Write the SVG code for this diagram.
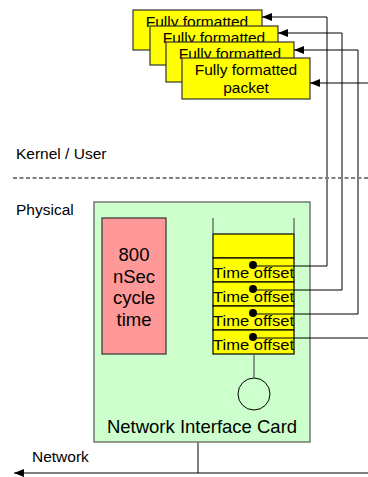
<svg xmlns="http://www.w3.org/2000/svg" width="368" height="477" viewBox="0 0 368 477">
  <defs>
    <marker id="ah" markerWidth="10" markerHeight="8" refX="10" refY="4" orient="auto" markerUnits="userSpaceOnUse">
      <path d="M0,0 L10,4 L0,8 Z" fill="#000"/>
    </marker>
    <style>
      text { font-family: "Liberation Sans", Arial, sans-serif; fill: #000; }
      .pkt { fill: #ffff00; stroke: #333; stroke-width: 1.2; }
      .pt { font-size: 15.5px; text-anchor: middle; }
      .lbl { font-size: 15.5px; }
      .big { font-size: 18.5px; text-anchor: middle; }
      .gray { stroke: #808080; stroke-width: 2; fill: none; }
      .blk { stroke: #000; stroke-width: 1; fill: none; }
      .row { fill: #ffff00; stroke: #000; stroke-width: 1.2; }
      .to { font-size: 15.5px; }
    </style>
  </defs>
  <rect width="368" height="477" fill="#fff"/>

  <!-- layer labels and boundary -->
  <text class="lbl" x="16" y="159">Kernel / User</text>
  <line x1="13" y1="178" x2="368" y2="178" stroke="#000" stroke-width="1" stroke-dasharray="4,2.5"/>
  <text class="lbl" x="16" y="215">Physical</text>
  <text class="lbl" x="32" y="462">Network</text>

  <!-- network interface card -->
  <g id="nic">
    <rect x="94" y="202" width="216" height="240" fill="#ccffcc" stroke="#555" stroke-width="1.2"/>
    <text class="big" x="202" y="433">Network Interface Card</text>
  </g>

  <g id="clock">
    <rect x="102" y="218" width="64" height="136" fill="#ff9999" stroke="#333" stroke-width="1.2"/>
    <text class="big" x="134" y="261">800</text>
    <text class="big" x="134" y="283">nSec</text>
    <text class="big" x="134" y="304">cycle</text>
    <text class="big" x="134" y="326">time</text>
  </g>

  <!-- descriptor stack -->
  <g id="queue">
    <rect x="213" y="234" width="81" height="24" class="row"/>
    <rect x="213" y="258" width="81" height="24" class="row"/>
    <rect x="213" y="282" width="81" height="24" class="row"/>
    <rect x="213" y="306" width="81" height="24" class="row"/>
    <rect x="213" y="330" width="81" height="24" class="row"/>
    <line x1="213" y1="218" x2="213" y2="234" stroke="#555" stroke-width="1.2"/>
    <line x1="294" y1="218" x2="294" y2="234" stroke="#555" stroke-width="1.2"/>
    <text class="to" x="213" y="278" textLength="81" lengthAdjust="spacingAndGlyphs">Time offset</text>
    <text class="to" x="213" y="302" textLength="81" lengthAdjust="spacingAndGlyphs">Time offset</text>
    <text class="to" x="213" y="326" textLength="81" lengthAdjust="spacingAndGlyphs">Time offset</text>
    <text class="to" x="213" y="350" textLength="81" lengthAdjust="spacingAndGlyphs">Time offset</text>
  </g>

  <g id="port">
    <circle cx="254" cy="394" r="16" fill="none" stroke="#000" stroke-width="1"/>
  </g>

  <!-- packet buffers -->
  <g id="packet1">
    <rect x="133" y="10" width="129" height="40" class="pkt"/>
    <text class="pt" x="197" y="27">Fully formatted</text>
  </g>
  <g id="packet2">
    <rect x="150" y="26" width="128" height="39" class="pkt"/>
    <text class="pt" x="214" y="43">Fully formatted</text>
  </g>
  <g id="packet3">
    <rect x="166" y="42" width="128" height="40" class="pkt"/>
    <text class="pt" x="230" y="59">Fully formatted</text>
  </g>
  <g id="packet4">
    <rect x="182" y="58" width="128" height="41" class="pkt"/>
    <text class="pt" x="246" y="75">Fully formatted</text>
    <text class="pt" x="246" y="93">packet</text>
  </g>

  <!-- connectors -->
  <g id="connectors">
    <line x1="254" y1="354" x2="254" y2="378" stroke="#555" stroke-width="1.2"/>
    <line x1="198" y1="442" x2="198" y2="473" class="gray" stroke-width="1.5"/>
    <line x1="368" y1="473" x2="14" y2="473" stroke="#000" stroke-width="1.2" marker-end="url(#ah)"/>

    <!-- offsets pointing back to their packets -->
    <polyline class="gray" points="327,17 327,266"/>
    <polyline class="gray" points="342,33 342,290"/>
    <polyline class="gray" points="358,50 358,314"/>

    <line class="blk" x1="327" y1="17" x2="262" y2="17" marker-end="url(#ah)"/>
    <line class="blk" x1="342" y1="33" x2="278" y2="33" marker-end="url(#ah)"/>
    <line class="blk" x1="358" y1="50" x2="294" y2="50" marker-end="url(#ah)"/>
    <line class="blk" x1="368" y1="83" x2="310" y2="83" marker-end="url(#ah)"/>

    <line class="blk" x1="253" y1="266" x2="327" y2="266"/>
    <line class="blk" x1="253" y1="290" x2="342" y2="290"/>
    <line class="blk" x1="253" y1="314" x2="358" y2="314"/>
    <line class="blk" x1="253" y1="338" x2="368" y2="338"/>

    <circle cx="253" cy="265" r="4" fill="#000"/>
    <circle cx="253" cy="289" r="4" fill="#000"/>
    <circle cx="253" cy="313" r="4" fill="#000"/>
    <circle cx="253" cy="337" r="4" fill="#000"/>
  </g>
</svg>
